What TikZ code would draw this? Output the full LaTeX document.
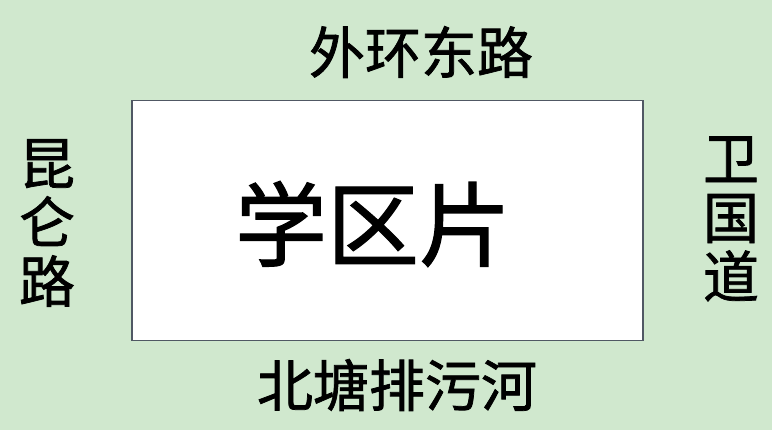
\documentclass[tikz,border=0pt]{standalone}
\usepackage{fontspec}
\newfontfamily\cjk[FakeBold=1.3]{Noto Sans CJK SC}
\usetikzlibrary{positioning}
\definecolor{fieldgreen}{RGB}{208,232,206}
\definecolor{boxline}{RGB}{80,88,100}

\tikzset{
  road/.style={font=\cjk\fontsize{56}{59}\selectfont, inner sep=0pt},
  vroad/.style={road, align=center},
}

\begin{document}
\begin{tikzpicture}[x=1pt, y=-1pt]
    \fill[fieldgreen] (0,0) rectangle (772,430);
    \useasboundingbox (0,0) rectangle (772,430);

    \node[draw=boxline, line width=1.5pt, fill=white, minimum width=511pt, minimum height=240pt, anchor=north west, inner sep=0pt] (area) at (131,100) {};
    \node[font=\cjk\fontsize{92}{96}\selectfont, inner sep=0pt] (name) at (373,224) {学区片};

    \node[road] (north) at (421,52) {外环东路};
    \node[road] (south) at (397,385) {北塘排污河};
    \node[vroad] (west) at (47,223) {昆\\仑\\路};
    \node[vroad] (east) at (731,219) {卫\\国\\道};
\end{tikzpicture}
\end{document}
